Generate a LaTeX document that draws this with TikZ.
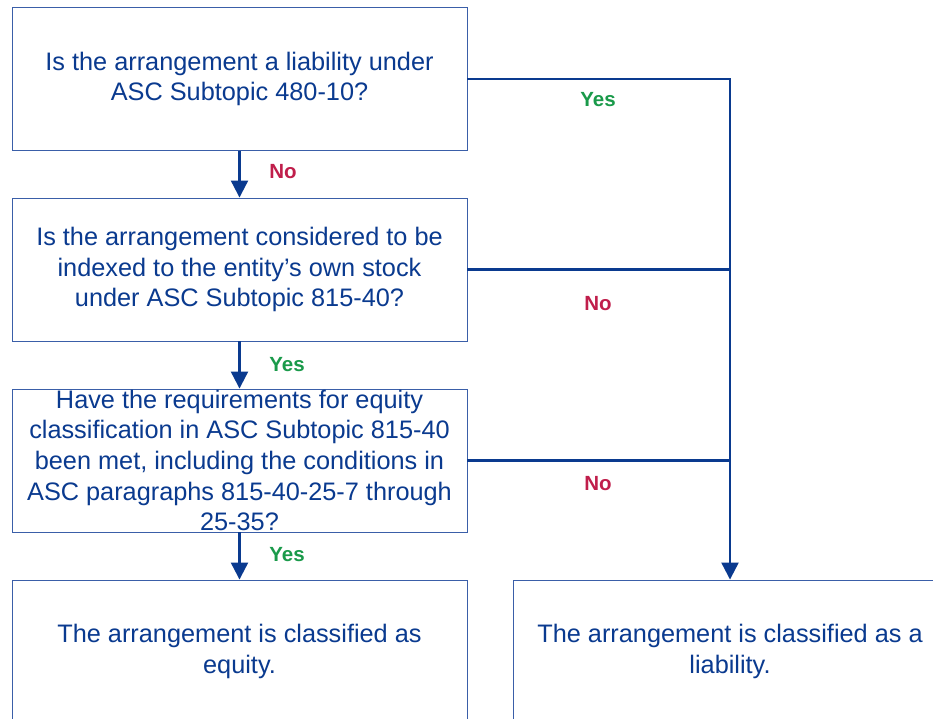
\documentclass[tikz,border=0pt]{standalone}
\usepackage{fontspec}
\setmainfont{Liberation Sans}
\usetikzlibrary{arrows.meta}
\definecolor{navy}{HTML}{0A3A8F}
\definecolor{boxline}{HTML}{3A5EA8}
\definecolor{yesgreen}{HTML}{1A9A4A}
\definecolor{nored}{HTML}{C01E4B}
\tikzset{
  box/.style={draw=boxline, line width=0.9pt, minimum height=143pt, inner sep=0pt,
    align=center, text=navy, font=\fontsize{25.3}{30.7}\selectfont},
  conn/.style={draw=navy, line width=2.2pt, -{Triangle[width=17pt,length=17pt]}},
  line/.style={draw=navy, line width=2.2pt},
  yeslbl/.style={text=yesgreen, font=\fontsize{20.5}{24}\selectfont\bfseries},
  nolbl/.style={text=nored, font=\fontsize{20.5}{24}\selectfont\bfseries},
}
\begin{document}
\begin{tikzpicture}[x=1pt,y=-1pt]
\useasboundingbox (0,0) rectangle (933,719);
\clip (0,0) rectangle (933,719);
\fill[white] (0,0) rectangle (933,719);
\node[box, minimum width=455pt] (b1) at (239.5,79) {Is the arrangement a liability under\\ASC Subtopic 480-10?};
\node[box, minimum width=455pt] (b2) at (239.5,269.5) {Is the arrangement considered to be\\indexed to the entity’s own stock\\under ASC Subtopic 815-40?};
\node[box, minimum width=455pt] (b3) at (239.5,460.5) {Have the requirements for equity\\classification in ASC Subtopic 815-40\\been met, including the conditions in\\ASC paragraphs 815-40-25-7 through\\25-35?};
\node[box, minimum width=455pt] (b4) at (239.5,651.5) {The arrangement is classified as\\equity.};
\node[box, minimum width=434pt] (b5) at (730,651.5) {The arrangement is classified as a\\liability.};
\draw[conn] (b1.south) -- (b2.north);
\draw[conn] (b2.south) -- (b3.north);
\draw[conn] (b3.south) -- (b4.north);
\draw[conn] (b1.east) -| (b5.north);
\draw[line] (b2.east) -- (b2.east -| b5.north);
\draw[line] (b3.east) -- (b3.east -| b5.north);
\node[yeslbl] (l1) at (598,100) {Yes};
\node[nolbl] (l2) at (598,304) {No};
\node[nolbl] (l3) at (598,484) {No};
\node[nolbl] (l4) at (283,172) {No};
\node[yeslbl] (l5) at (287,365) {Yes};
\node[yeslbl] (l6) at (287,555) {Yes};
\end{tikzpicture}
\end{document}
